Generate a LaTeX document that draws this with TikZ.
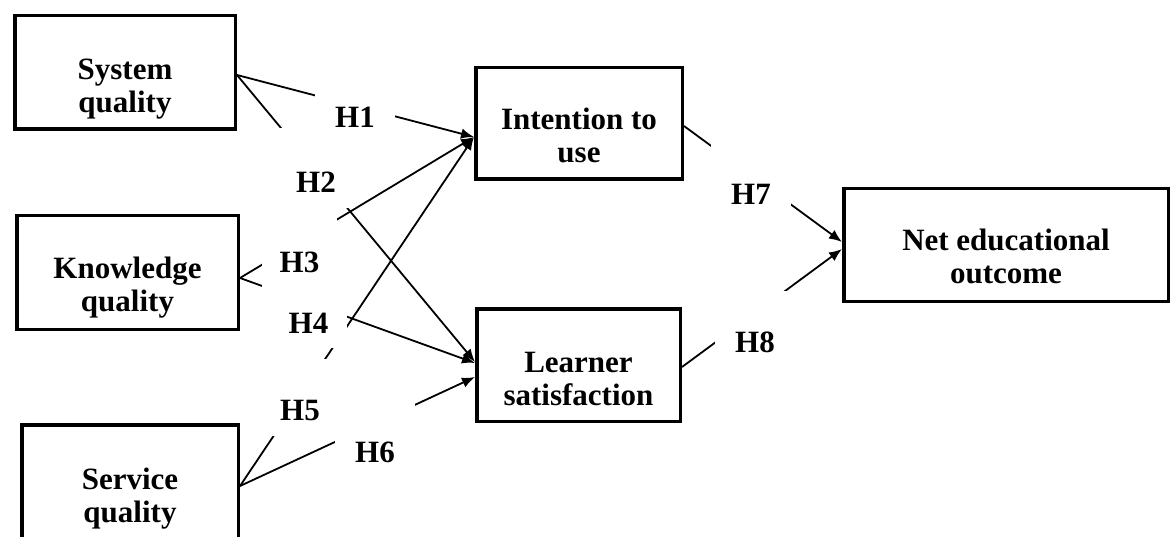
\documentclass[tikz,border=0pt]{standalone}
\usepackage{fontspec}
\setmainfont{Liberation Serif}
\usetikzlibrary{arrows.meta,calc}
\newcommand{\toppad}[1]{\rule{0pt}{#1pt}}
\begin{document}
\begin{tikzpicture}[x=1pt,y=-1pt,
  box/.style={draw, line width=3.5pt, inner sep=0pt, align=center,
    font=\bfseries\fontsize{31}{33}\selectfont},
  arr/.style={line width=1.8pt, -{Latex[length=13pt,width=10.5pt]}},
  hlab/.style={fill=white, inner sep=0pt, outer sep=0pt, anchor=base,
    font=\bfseries\fontsize{31}{33}\selectfont}
]
\path[use as bounding box] (0,0) rectangle (1174,537);
\clip (0,0) rectangle (1174,537);
\fill[white] (0,0) rectangle (1174,537);

% boxes
\node[box, minimum width=220.5pt, minimum height=113.5pt] (sq) at (125,72.5) {\toppad{54}System\\quality};
\node[box, minimum width=221.5pt, minimum height=113.5pt] (kq) at (127.5,272.5) {\toppad{52}Knowledge\\quality};
\node[box, minimum width=216.5pt, minimum height=113.5pt] (vq) at (130,481.5) {\toppad{55}Service\\quality};
\node[box, minimum width=206.5pt, minimum height=111.5pt] (itu) at (579,123.5) {\toppad{45}Intention to\\use};
\node[box, minimum width=203.5pt, minimum height=112.5pt] (ls) at (578.5,365) {\toppad{49}Learner\\satisfaction};
\node[box, minimum width=324.5pt, minimum height=112.5pt] (neo) at (1006,245) {\toppad{45}Net educational\\outcome};

% connectors
\draw[arr] ($(sq.east)+(0,2.5)$) -- ($(itu.west)+(0,13.5)$);  % H1
\draw[arr] ($(sq.east)+(0,2.5)$) -- ($(ls.west)+(0,-3)$);     % H2
\draw[arr] ($(kq.east)+(0,5.5)$) -- ($(itu.west)+(0,13.5)$);  % H3
\draw[arr] ($(kq.east)+(0,5.5)$) -- ($(ls.west)+(0,-2)$);     % H4
\draw[arr] ($(vq.east)+(0,4.5)$) -- ($(itu.west)+(0,13.5)$);  % H5
\draw[arr] ($(vq.east)+(0,4.5)$) -- ($(ls.west)+(0,12)$);     % H6
\draw[arr] ($(itu.east)+(0,2.5)$) -- ($(neo.west)+(0,-3)$);   % H7
\draw[arr] ($(ls.east)+(0,2)$) -- ($(neo.west)+(0,4)$);       % H8

% labels (white text boxes that interrupt the connectors)
\node[hlab, minimum width=80pt, text height=36pt, text depth=12pt] (h1) at (355,128) {H1};
\node[hlab, minimum width=78pt, text height=65pt, text depth=15pt] (h2) at (316,193) {H2};
\node[hlab, minimum width=75pt, text height=57pt, text depth=18pt] (h3) at (299.5,272) {H3};
\node[hlab, minimum width=77pt, text height=47pt, text depth=15pt] (h4) at (308.5,333) {H4};
\node[hlab, minimum width=78pt, text height=61pt, text depth=16pt] (h5) at (300,420) {H5};
\node[hlab, minimum width=80pt, text height=60pt, text depth=18pt] (h6) at (375,462) {H6};
\node[hlab, minimum width=80pt, text height=62pt, text depth=10pt] (h7) at (751,205) {H7};
\node[hlab, minimum width=80pt, text height=61pt, text depth=13pt] (h8) at (755,352) {H8};
\end{tikzpicture}
\end{document}
